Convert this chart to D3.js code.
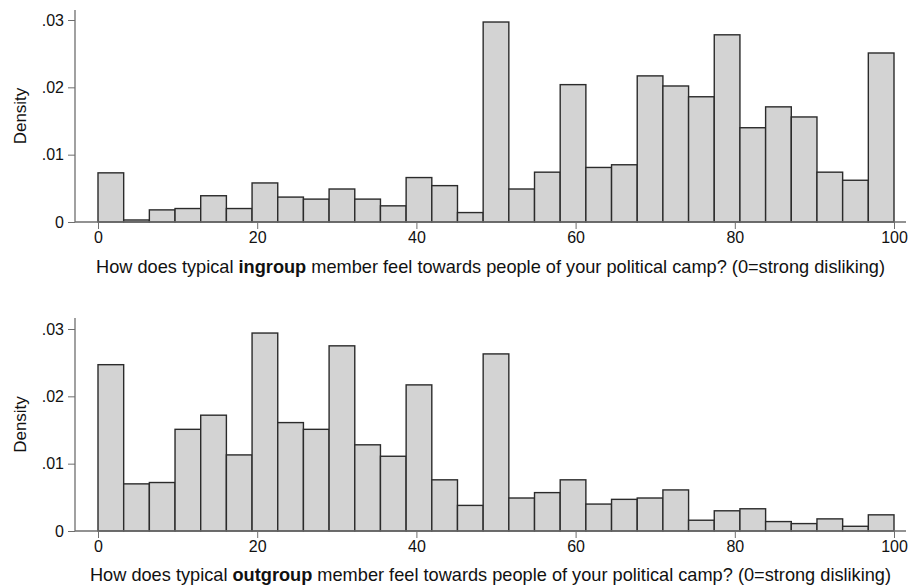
<!DOCTYPE html>
<html><head><meta charset="utf-8">
<script src="https://cdn.jsdelivr.net/npm/d3@7"></script>
<style>body{margin:0;background:#fff}svg{display:block}text{font-family:"Liberation Sans",Arial,sans-serif}</style>
</head><body><div id="chart"></div>
<script>
const nBins = 31;
const xTicks = [0, 20, 40, 60, 80, 100];
const yTicks = [0, 0.01, 0.02, 0.03];
const yTickLabels = ["0", ".01", ".02", ".03"];
const ingroupDensity = [0.0073, 0.0003, 0.0018, 0.0020, 0.0039, 0.0020, 0.0058, 0.0037, 0.0034, 0.0049, 0.0034, 0.0024, 0.0066, 0.0054, 0.0014, 0.0297, 0.0049, 0.0074, 0.0204, 0.0081, 0.0085, 0.0217, 0.0202, 0.0186, 0.0278, 0.0140, 0.0171, 0.0156, 0.0074, 0.0062, 0.0251];
const outgroupDensity = [0.0247, 0.0070, 0.0072, 0.0151, 0.0172, 0.0113, 0.0294, 0.0161, 0.0151, 0.0275, 0.0128, 0.0111, 0.0217, 0.0076, 0.0038, 0.0263, 0.0049, 0.0057, 0.0076, 0.0040, 0.0047, 0.0049, 0.0061, 0.0016, 0.0030, 0.0033, 0.0014, 0.0011, 0.0018, 0.0007, 0.0024];
const panels = [
  {values: ingroupDensity, word: "ingroup", base: 222, top03: 20, axisTop: 10, titleY: 273},
  {values: outgroupDensity, word: "outgroup", base: 531, top03: 329, axisTop: 318, titleY: 581}
];
const W = 909, H = 585;
const svg = d3.select("#chart").append("svg").attr("width", W).attr("height", H);
const x = d3.scaleLinear().domain([0, 100]).range([98, 894]);
const axisColor = "#6e6e6e";
const font = '"Liberation Sans",Arial,sans-serif';
panels.forEach(p => {
  const y = d3.scaleLinear().domain([0, 0.03]).range([p.base, p.top03]);
  const g = svg.append("g");
  const bw = 100 / nBins;
  g.selectAll("rect").data(p.values).join("rect")
    .attr("x", (d, i) => x(i * bw))
    .attr("width", (d, i) => x((i + 1) * bw) - x(i * bw))
    .attr("y", d => y(d))
    .attr("height", d => y(0) - y(d))
    .attr("fill", "#d3d3d3").attr("stroke", "#2b2b2b").attr("stroke-width", 1.4);
  // y axis
  const ya = d3.axisLeft(y).tickValues(yTicks).tickFormat((d, i) => yTickLabels[i]).tickSize(7).tickSizeOuter(0).tickPadding(4);
  const yg = g.append("g").attr("transform", "translate(75,0)").call(ya);
  yg.select(".domain").remove();
  yg.selectAll(".tick line").attr("stroke", axisColor).attr("stroke-width", 1);
  yg.selectAll(".tick text").attr("font-size", 16).attr("fill", "#111").attr("font-family", font);
  g.append("line").attr("x1", 75).attr("x2", 75).attr("y1", p.axisTop).attr("y2", p.base).attr("stroke", axisColor).attr("stroke-width", 1.3);
  // x axis
  const xa = d3.axisBottom(x).tickValues(xTicks).tickFormat(d3.format("d")).tickSize(7).tickSizeOuter(0).tickPadding(3);
  const xg = g.append("g").attr("transform", `translate(0,${p.base})`).call(xa);
  xg.select(".domain").remove();
  xg.selectAll(".tick line").attr("stroke", axisColor).attr("stroke-width", 1);
  xg.selectAll(".tick text").attr("font-size", 16).attr("fill", "#111").attr("font-family", font);
  g.append("line").attr("x1", 75).attr("x2", 906).attr("y1", p.base).attr("y2", p.base).attr("stroke", axisColor).attr("stroke-width", 1.3);
  // labels
  g.append("text").attr("transform", `translate(26,${(p.base + p.axisTop) / 2}) rotate(-90)`)
    .attr("text-anchor", "middle").attr("font-size", 17).attr("fill", "#111").text("Density");
  const t = g.append("text").attr("x", 490.5).attr("y", p.titleY).attr("text-anchor", "middle").attr("font-size", 18.2).attr("fill", "#111");
  t.append("tspan").text("How does typical ");
  t.append("tspan").attr("font-weight", "bold").text(p.word);
  t.append("tspan").text(" member feel towards people of your political camp? (0=strong disliking)");
});
</script></body></html>
